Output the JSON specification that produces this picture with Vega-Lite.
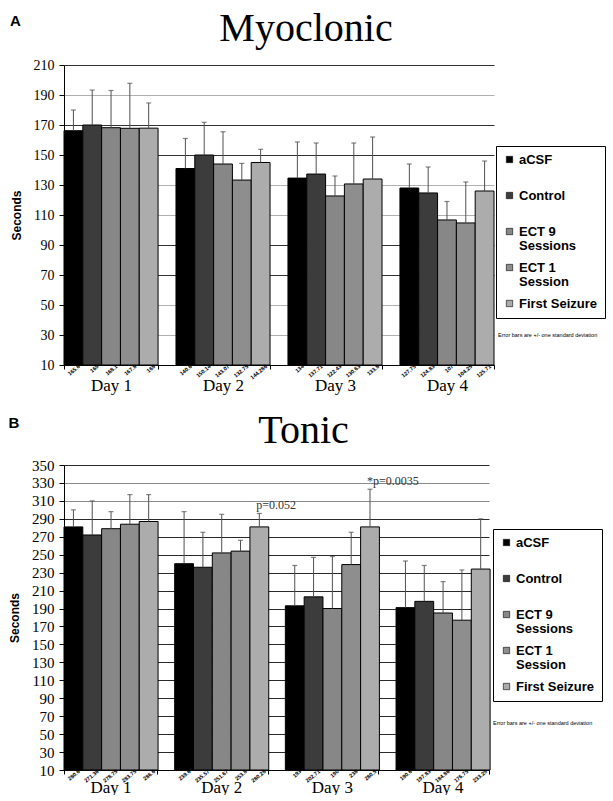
{
  "$schema": "https://vega.github.io/schema/vega-lite/v6.json",
  "background": "white",
  "padding": {"left": 8, "top": 9, "right": 0, "bottom": 0},
  "spacing": 17,
  "config": {
    "view": {"stroke": null},
    "axis": {"domainColor": "black", "tickColor": "black", "labelColor": "black", "titleColor": "black", "labelOverlap": false},
    "legend": {
      "orient": "none", "title": null, "padding": 7, "strokeColor": "black", "fillColor": "white",
      "labelFont": "Liberation Sans", "labelFontSize": 13, "labelFontWeight": "bold", "labelColor": "black",
      "symbolType": "square", "symbolSize": 40, "symbolStrokeColor": "black", "symbolStrokeWidth": 0.6,
      "rowPadding": 8, "gridAlign": "all", "labelOffset": 3
    }
  },
  "datasets": {
    "myo": [
      {"day": "Day 1", "group": "aCSF", "mean": 166.2, "upper": 180, "label": "165.6"},
      {"day": "Day 1", "group": "Control", "mean": 170, "upper": 193.3, "label": "169"},
      {"day": "Day 1", "group": "ECT 9 Sessions", "mean": 168.2, "upper": 193, "label": "168.1"},
      {"day": "Day 1", "group": "ECT 1 Session", "mean": 167.8, "upper": 197.8, "label": "167.8"},
      {"day": "Day 1", "group": "First Seizure", "mean": 167.9, "upper": 184.7, "label": "168"},
      {"day": "Day 2", "group": "aCSF", "mean": 141, "upper": 161, "label": "140.6"},
      {"day": "Day 2", "group": "Control", "mean": 150, "upper": 171.8, "label": "150.14"},
      {"day": "Day 2", "group": "ECT 9 Sessions", "mean": 144, "upper": 165.5, "label": "143.07"},
      {"day": "Day 2", "group": "ECT 1 Session", "mean": 133.3, "upper": 144.4, "label": "132.75"},
      {"day": "Day 2", "group": "First Seizure", "mean": 145, "upper": 153.8, "label": "144.286"},
      {"day": "Day 3", "group": "aCSF", "mean": 134.6, "upper": 158.7, "label": "134"},
      {"day": "Day 3", "group": "Control", "mean": 137.3, "upper": 158, "label": "137.71"},
      {"day": "Day 3", "group": "ECT 9 Sessions", "mean": 122.7, "upper": 136, "label": "122.43"},
      {"day": "Day 3", "group": "ECT 1 Session", "mean": 130.7, "upper": 158, "label": "130.63"},
      {"day": "Day 3", "group": "First Seizure", "mean": 134, "upper": 162, "label": "133.8"},
      {"day": "Day 4", "group": "aCSF", "mean": 128, "upper": 144, "label": "127.75"},
      {"day": "Day 4", "group": "Control", "mean": 124.7, "upper": 142, "label": "124.83"},
      {"day": "Day 4", "group": "ECT 9 Sessions", "mean": 106.7, "upper": 119, "label": "107"},
      {"day": "Day 4", "group": "ECT 1 Session", "mean": 104.7, "upper": 132, "label": "104.25"},
      {"day": "Day 4", "group": "First Seizure", "mean": 126, "upper": 146, "label": "125.71"}
    ],
    "ton": [
      {"day": "Day 1", "group": "aCSF", "mean": 281, "upper": 300, "label": "280.6", "pval": ""},
      {"day": "Day 1", "group": "Control", "mean": 272, "upper": 310, "label": "271.36", "pval": ""},
      {"day": "Day 1", "group": "ECT 9 Sessions", "mean": 279, "upper": 298, "label": "278.75", "pval": ""},
      {"day": "Day 1", "group": "ECT 1 Session", "mean": 284, "upper": 317, "label": "283.75", "pval": ""},
      {"day": "Day 1", "group": "First Seizure", "mean": 287, "upper": 317, "label": "286.6", "pval": ""},
      {"day": "Day 2", "group": "aCSF", "mean": 240, "upper": 298, "label": "239.6", "pval": ""},
      {"day": "Day 2", "group": "Control", "mean": 236, "upper": 275, "label": "235.57", "pval": ""},
      {"day": "Day 2", "group": "ECT 9 Sessions", "mean": 252, "upper": 295, "label": "251.67", "pval": ""},
      {"day": "Day 2", "group": "ECT 1 Session", "mean": 254, "upper": 266, "label": "253.8", "pval": ""},
      {"day": "Day 2", "group": "First Seizure", "mean": 281, "upper": 296, "label": "280.28", "pval": "p=0.052"},
      {"day": "Day 3", "group": "aCSF", "mean": 193, "upper": 238, "label": "193", "pval": ""},
      {"day": "Day 3", "group": "Control", "mean": 203, "upper": 247, "label": "202.71", "pval": ""},
      {"day": "Day 3", "group": "ECT 9 Sessions", "mean": 190, "upper": 248, "label": "190", "pval": ""},
      {"day": "Day 3", "group": "ECT 1 Session", "mean": 239, "upper": 275, "label": "238", "pval": ""},
      {"day": "Day 3", "group": "First Seizure", "mean": 281, "upper": 323, "label": "280.5", "pval": "*p=0.0035"},
      {"day": "Day 4", "group": "aCSF", "mean": 191, "upper": 243, "label": "190.6", "pval": ""},
      {"day": "Day 4", "group": "Control", "mean": 198, "upper": 238, "label": "197.83", "pval": ""},
      {"day": "Day 4", "group": "ECT 9 Sessions", "mean": 185, "upper": 220, "label": "184.86", "pval": ""},
      {"day": "Day 4", "group": "ECT 1 Session", "mean": 177, "upper": 233, "label": "176.75", "pval": ""},
      {"day": "Day 4", "group": "First Seizure", "mean": 234, "upper": 290, "label": "233.29", "pval": ""}
    ],
    "notes": [{"note": "Error bars are +/- one standard deviation"}]
  },
  "resolve": {"scale": {"color": "independent", "x": "independent", "y": "independent"}},
  "vconcat": [
    {
      "title": {"text": "A", "font": "Liberation Sans", "fontSize": 15, "fontWeight": "bold", "anchor": "start", "frame": "bounds", "offset": -20, "color": "black"},
      "vconcat": [
        {
          "width": 430, "height": 300,
          "title": {"text": "Myoclonic", "font": "Liberation Serif", "fontSize": 40, "fontWeight": "normal", "anchor": "middle", "dx": 27, "offset": 9, "color": "black"},
          "layer": [
            {
              "data": {"name": "myo"},
              "mark": {"type": "bar", "stroke": "black", "strokeWidth": 1},
              "encoding": {
                "x": {"field": "day", "type": "nominal", "scale": {"paddingInner": 0.16, "paddingOuter": 0},
                  "axis": {"title": null, "labelAngle": 0, "labelFont": "Liberation Serif", "labelFontSize": 17, "labelPadding": 8, "tickBand": "extent", "tickSize": 4, "domainColor": "black"}},
                "xOffset": {"field": "group", "type": "nominal", "scale": {"domain": ["aCSF", "Control", "ECT 9 Sessions", "ECT 1 Session", "First Seizure"], "paddingInner": 0, "paddingOuter": 0}},
                "y": {"field": "mean", "type": "quantitative", "scale": {"domain": [10, 210], "nice": false, "zero": false},
                  "axis": {"title": "Seconds", "titleFont": "Liberation Sans", "titleFontSize": 12, "titleFontWeight": "bold", "titlePadding": 10,
                    "values": [10, 30, 50, 70, 90, 110, 130, 150, 170, 190, 210], "tickCount": 30, "labelOverlap": false,
                    "labelFont": "Liberation Serif", "labelFontSize": 14, "labelPadding": 5, "tickSize": 5,
                    "grid": true, "gridWidth": 1.2, "gridColor": {"condition": {"test": "indexof([30, 50, 110, 130, 190], datum.value) >= 0", "value": "#b0b0b0"}, "value": "#333333"}}},
                "y2": {"datum": 10},
                "color": {"field": "group", "type": "nominal",
                  "scale": {"domain": ["aCSF", "Control", "ECT 9 Sessions", "ECT 1 Session", "First Seizure"], "range": ["#000000", "#3c3c3c", "#878787", "#8e8e8e", "#acacac"]},
                  "legend": {"legendX": 432, "legendY": 81,
                    "encode": {"labels": {"update": {"lineHeight": {"value": 14}}}},
                    "labelExpr": "datum.label == 'ECT 9 Sessions' ? ['ECT 9', 'Sessions'] : datum.label == 'ECT 1 Session' ? ['ECT 1', 'Session'] : datum.label"}}
              }
            },
            {
              "data": {"name": "myo"},
              "mark": {"type": "rule", "color": "#505050", "strokeWidth": 1},
              "encoding": {
                "x": {"field": "day", "type": "nominal"},
                "xOffset": {"field": "group", "type": "nominal"},
                "y": {"field": "mean", "type": "quantitative"},
                "y2": {"field": "upper"}
              }
            },
            {
              "data": {"name": "myo"},
              "mark": {"type": "tick", "color": "#505050", "size": 5, "thickness": 1.2},
              "encoding": {
                "x": {"field": "day", "type": "nominal"},
                "xOffset": {"field": "group", "type": "nominal"},
                "y": {"field": "upper", "type": "quantitative"}
              }
            },
            {
              "data": {"name": "myo"},
              "mark": {"type": "text", "angle": 320, "align": "right", "baseline": "top", "font": "Liberation Sans", "fontWeight": "bold", "fontSize": 5.5, "color": "black", "dx": 4, "dy": 2},
              "encoding": {
                "x": {"field": "day", "type": "nominal"},
                "xOffset": {"field": "group", "type": "nominal"},
                "y": {"datum": 10},
                "text": {"field": "label"}
              }
            },
            {
              "data": {"name": "notes"},
              "mark": {"type": "text", "align": "left", "baseline": "middle", "font": "Liberation Sans", "fontSize": 5.5, "color": "black", "dx": 4},
              "encoding": {
                "x": {"datum": "Day 4", "bandPosition": 1},
                "y": {"datum": 30},
                "text": {"field": "note"}
              }
            }
          ]
        }
      ]
    },
    {
      "title": {"text": "B", "font": "Liberation Sans", "fontSize": 15, "fontWeight": "bold", "anchor": "start", "frame": "bounds", "offset": -20, "color": "black"},
      "vconcat": [
        {
          "width": 425, "height": 305,
          "title": {"text": "Tonic", "font": "Liberation Serif", "fontSize": 40, "fontWeight": "normal", "anchor": "middle", "dx": 27, "offset": 7.5, "color": "black"},
          "layer": [
            {
              "data": {"name": "ton"},
              "mark": {"type": "bar", "stroke": "black", "strokeWidth": 1},
              "encoding": {
                "x": {"field": "day", "type": "nominal", "scale": {"paddingInner": 0.16, "paddingOuter": 0},
                  "axis": {"title": null, "labelAngle": 0, "labelFont": "Liberation Serif", "labelFontSize": 17, "labelPadding": 5, "tickBand": "extent", "tickSize": 4}},
                "xOffset": {"field": "group", "type": "nominal", "scale": {"domain": ["aCSF", "Control", "ECT 9 Sessions", "ECT 1 Session", "First Seizure"], "paddingInner": 0, "paddingOuter": 0}},
                "y": {"field": "mean", "type": "quantitative", "scale": {"domain": [10, 350], "nice": false, "zero": false},
                  "axis": {"title": "Seconds", "titleFont": "Liberation Sans", "titleFontSize": 12, "titleFontWeight": "bold", "titlePadding": 10,
                    "values": [10, 30, 50, 70, 90, 110, 130, 150, 170, 190, 210, 230, 250, 270, 290, 310, 330, 350], "tickCount": 30, "labelOverlap": false,
                    "labelFont": "Liberation Serif", "labelFontSize": 15, "labelPadding": 5, "tickSize": 5,
                    "grid": true, "gridWidth": 1.2, "gridColor": {"condition": {"test": "indexof([310, 330], datum.value) >= 0", "value": "#8a8a8a"}, "value": "#2a2a2a"}}},
                "y2": {"datum": 10},
                "color": {"field": "group", "type": "nominal",
                  "scale": {"domain": ["aCSF", "Control", "ECT 9 Sessions", "ECT 1 Session", "First Seizure"], "range": ["#000000", "#3c3c3c", "#878787", "#8e8e8e", "#acacac"]},
                  "legend": {"legendX": 429, "legendY": 64,
                    "encode": {"labels": {"update": {"lineHeight": {"value": 14}}}},
                    "labelExpr": "datum.label == 'ECT 9 Sessions' ? ['ECT 9', 'Sessions'] : datum.label == 'ECT 1 Session' ? ['ECT 1', 'Session'] : datum.label"}}
              }
            },
            {
              "data": {"name": "ton"},
              "mark": {"type": "rule", "color": "#505050", "strokeWidth": 1},
              "encoding": {
                "x": {"field": "day", "type": "nominal"},
                "xOffset": {"field": "group", "type": "nominal"},
                "y": {"field": "mean", "type": "quantitative"},
                "y2": {"field": "upper"}
              }
            },
            {
              "data": {"name": "ton"},
              "mark": {"type": "tick", "color": "#505050", "size": 5, "thickness": 1.2},
              "encoding": {
                "x": {"field": "day", "type": "nominal"},
                "xOffset": {"field": "group", "type": "nominal"},
                "y": {"field": "upper", "type": "quantitative"}
              }
            },
            {
              "data": {"name": "ton"},
              "transform": [{"filter": "datum.pval != ''"}],
              "mark": {"type": "text", "align": "left", "baseline": "bottom", "font": "Liberation Serif", "fontSize": 12, "color": "#333333", "dx": -3, "dy": -1},
              "encoding": {
                "x": {"field": "day", "type": "nominal"},
                "xOffset": {"field": "group", "type": "nominal"},
                "y": {"field": "upper", "type": "quantitative"},
                "text": {"field": "pval"}
              }
            },
            {
              "data": {"name": "ton"},
              "mark": {"type": "text", "angle": 320, "align": "right", "baseline": "top", "font": "Liberation Sans", "fontWeight": "bold", "fontSize": 5.5, "color": "black", "dx": 4, "dy": 2},
              "encoding": {
                "x": {"field": "day", "type": "nominal"},
                "xOffset": {"field": "group", "type": "nominal"},
                "y": {"datum": 10},
                "text": {"field": "label"}
              }
            },
            {
              "data": {"name": "notes"},
              "mark": {"type": "text", "align": "left", "baseline": "middle", "font": "Liberation Sans", "fontSize": 5.5, "color": "black", "dx": 4},
              "encoding": {
                "x": {"datum": "Day 4", "bandPosition": 1},
                "y": {"datum": 62},
                "text": {"field": "note"}
              }
            }
          ]
        }
      ]
    }
  ]
}
